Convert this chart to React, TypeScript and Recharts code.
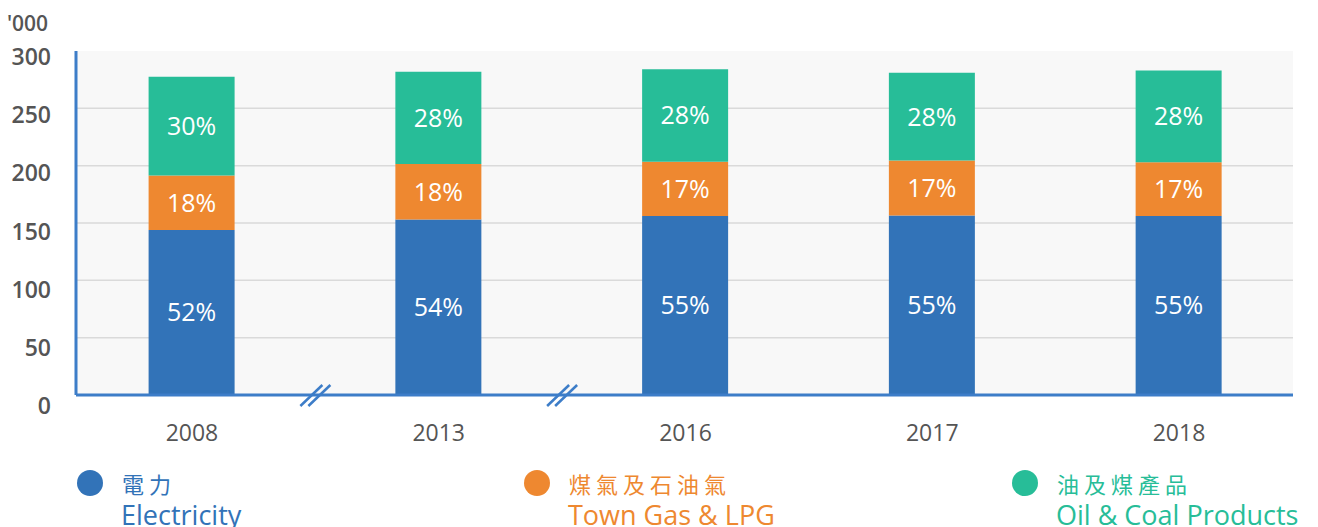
import React from "react";
import {
    BarChart,
    Bar,
    XAxis,
    YAxis,
    CartesianGrid,
    LabelList,
} from "recharts";

const years = ["2008", "2013", "2016", "2017", "2018"];
const electricity = [144, 153, 156, 156.5, 156];
const townGas = [47.5, 48.5, 47.5, 48, 47];
const oilCoal = [86, 80.5, 80.5, 76.5, 80];
const electricityPct = ["52%", "54%", "55%", "55%", "55%"];
const townGasPct = ["18%", "18%", "17%", "17%", "17%"];
const oilCoalPct = ["30%", "28%", "28%", "28%", "28%"];
const yTicks = [0, 50, 100, 150, 200, 250, 300];
const gridValues = [50, 100, 150, 200, 250];
// years that come after a gap in the time axis
const breakBefore = ["2013", "2016"];

const BLUE = "#3273b8";
const ORANGE = "#ee8830";
const GREEN = "#27bd98";
const AXIS_BLUE = "#3d7dc8";
const FONT = "'Open Sans', sans-serif";
const CJK = "'Noto Sans CJK TC', sans-serif";

const series = [
    { key: "electricity", label: "electricityPct", color: BLUE, zh: "電力", en: "Electricity", left: 77 },
    { key: "townGas", label: "townGasPct", color: ORANGE, zh: "煤氣及石油氣", en: "Town Gas & LPG", left: 524 },
    { key: "oilCoal", label: "oilCoalPct", color: GREEN, zh: "油及煤產品", en: "Oil & Coal Products", left: 1012 },
];

const data = years.map((year, i) => ({
    year,
    electricity: electricity[i],
    townGas: townGas[i],
    oilCoal: oilCoal[i],
    electricityPct: electricityPct[i],
    townGasPct: townGasPct[i],
    oilCoalPct: oilCoalPct[i],
}));

const STEP = 246.75;

function YTick(props: any) {
    const { x, y, payload } = props;
    const v = payload.value as number;
    const dy = 14 + ((300 - v) / 300) * 5;
    return (
        <text x={x} y={y + dy} textAnchor="end" fill="#555" fontSize={23} fontWeight={600} fontFamily={FONT}>
            {v}
        </text>
    );
}

function XTick(props: any) {
    const { x, y, payload } = props;
    const base = y - 6;
    const hasBreak = breakBefore.includes(payload.value);
    const bx = x - STEP / 2;
    return (
        <g>
            <text x={x} y={base + 46} textAnchor="middle" fill="#555" fontSize={23} fontFamily={FONT}>
                {payload.value}
            </text>
            {hasBreak && (
                <g stroke={AXIS_BLUE} strokeWidth={2.5}>
                    <line x1={bx - 15} y1={base + 11} x2={bx + 7} y2={base - 10} />
                    <line x1={bx - 7} y1={base + 11} x2={bx + 15} y2={base - 10} />
                </g>
            )}
        </g>
    );
}

// grid lines only at the inner ticks, placed through the y scale
const gridRows = ({ yAxis, offset }: any) => {
    const sc = yAxis && yAxis.scale;
    if (typeof sc === "function") return gridValues.map((v) => sc(v));
    const top = offset.top;
    const h = offset.height;
    return gridValues.map((v) => top + h - (v / 300) * h);
};

export default function App() {
    return (
        <div
            style={{
                position: "absolute",
                left: 0,
                top: 0,
                width: 1318,
                height: 527,
                background: "#fff",
                overflow: "hidden",
                fontFamily: FONT,
            }}
        >
            <div
                style={{
                    position: "absolute",
                    left: 7,
                    top: 13,
                    fontSize: 21,
                    lineHeight: "21px",
                    fontWeight: 600,
                    color: "#555",
                }}
            >
                '000
            </div>
            <BarChart
                width={1318}
                height={460}
                data={data}
                margin={{ top: 51, right: 25, left: 0, bottom: 0 }}
                barSize={86}
            >
                <CartesianGrid
                    vertical={false}
                    fill="#f8f8f8"
                    stroke="#dadada"
                    strokeWidth={1.5}
                    horizontalCoordinatesGenerator={gridRows}
                />
                <XAxis
                    dataKey="year"
                    height={65}
                    tickLine={false}
                    tickMargin={0}
                    axisLine={{ stroke: AXIS_BLUE, strokeWidth: 3 }}
                    padding={{ left: -7.4, right: -9.4 }}
                    tick={<XTick />}
                    interval={0}
                />
                <YAxis
                    width={76}
                    domain={[0, 300]}
                    ticks={yTicks}
                    tickLine={false}
                    tickMargin={19}
                    axisLine={{ stroke: AXIS_BLUE, strokeWidth: 3 }}
                    tick={<YTick />}
                    interval={0}
                />
                {series.map((s) => (
                    <Bar key={s.key} dataKey={s.key} stackId="a" fill={s.color} isAnimationActive={false}>
                        <LabelList
                            dataKey={s.label}
                            position="center"
                            fill="#fff"
                            fontSize={25}
                            fontFamily={FONT}
                        />
                    </Bar>
                ))}
            </BarChart>
            {series.map((s) => (
                <div key={s.key} style={{ position: "absolute", left: s.left, top: 0 }}>
                    <div
                        style={{
                            position: "absolute",
                            left: 0,
                            top: 470,
                            width: 26,
                            height: 26,
                            borderRadius: "50%",
                            background: s.color,
                        }}
                    />
                    <div
                        style={{
                            position: "absolute",
                            left: 45,
                            top: 471,
                            whiteSpace: "nowrap",
                            fontFamily: CJK,
                            fontSize: 22,
                            lineHeight: "24px",
                            letterSpacing: 5,
                            color: s.color,
                        }}
                    >
                        {s.zh}
                    </div>
                    <div
                        style={{
                            position: "absolute",
                            left: 44,
                            top: 502,
                            whiteSpace: "nowrap",
                            fontSize: 27,
                            lineHeight: "25px",
                            color: s.color,
                        }}
                    >
                        {s.en}
                    </div>
                </div>
            ))}
        </div>
    );
}
